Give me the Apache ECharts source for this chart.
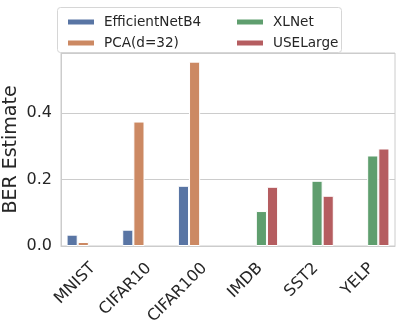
<!DOCTYPE html>
<html>
<head>
<meta charset="utf-8">
<script src="https://cdn.jsdelivr.net/npm/echarts@6/dist/echarts.min.js"></script>
<style>
  html, body { margin: 0; padding: 0; background: #fff; }
  #chart { width: 396px; height: 328px; }
</style>
</head>
<body>
<div id="chart"></div>
<script>
// datasets on the x axis
var categories = ['MNIST', 'CIFAR10', 'CIFAR100', 'IMDB', 'SST2', 'YELP'];

// BER estimates per model (null = not evaluated)
var efficientNet = [0.034, 0.049, 0.181, null, null, null];
var pca = [0.012, 0.374, 0.554, null, null, null];
var xlnet = [null, null, null, 0.105, 0.196, 0.272];
var useLarge = [null, null, null, 0.178, 0.151, 0.293];

var yTicks = [0.0, 0.2, 0.4];

var font = 'DejaVu Sans';
var textColor = '#262626';

function bar(name, data, color) {
    return {
        name: name,
        type: 'bar',
        data: data,
        barGap: '0%',
        barCategoryGap: '20%',
        itemStyle: { color: color, borderColor: '#fff', borderWidth: 1 }
    };
}

var legendText = { fontSize: 13.6, color: textColor, fontFamily: font, padding: [0, 0, 0, 4] };

var option = {
    animation: false,
    backgroundColor: '#fff',
    textStyle: { fontFamily: font },
    grid: {
        left: 61, right: 1, top: 53, bottom: 82,
        containLabel: false,
        outerBoundsMode: 'none',
        show: true, borderColor: '#cccccc', borderWidth: 1
    },
    legend: [
        {
            data: ['EfficientNetB4', 'PCA(d=32)'],
            orient: 'vertical',
            left: 61, top: 10,
            itemWidth: 28, itemHeight: 7, itemGap: 7,
            textStyle: legendText,
            icon: 'rect'
        },
        {
            data: ['XLNet', 'USELarge'],
            orient: 'vertical',
            left: 230, top: 10,
            itemWidth: 28, itemHeight: 7, itemGap: 7,
            textStyle: legendText,
            icon: 'rect'
        }
    ],
    graphic: [{
        type: 'rect',
        z: 1,
        shape: { x: 57.5, y: 7.5, width: 284, height: 45, r: 3 },
        style: { fill: 'rgba(255,255,255,0.8)', stroke: '#d6d6d6', lineWidth: 1 }
    }],
    xAxis: {
        type: 'category',
        data: categories,
        axisLine: { show: true, lineStyle: { color: '#cccccc' } },
        axisTick: { show: false },
        axisLabel: {
            rotate: 45, fontSize: 16, color: textColor, fontFamily: font,
            margin: 24, padding: [0, -6, 0, 0]
        },
        splitLine: { show: false }
    },
    yAxis: {
        type: 'value',
        min: 0, max: 0.58, interval: 0.2,
        name: 'BER Estimate',
        nameLocation: 'middle',
        nameGap: 40,
        nameMoveOverlap: false,
        nameTextStyle: { fontSize: 19, color: textColor, fontFamily: font },
        axisLine: { show: true, lineStyle: { color: '#cccccc' } },
        axisTick: { show: false },
        axisLabel: {
            fontSize: 16, color: textColor, fontFamily: font, margin: 9,
            showMaxLabel: false,
            formatter: function (v) {
                for (var i = 0; i < yTicks.length; i++) {
                    if (Math.abs(yTicks[i] - v) < 1e-6) return v.toFixed(1);
                }
                return '';
            }
        },
        splitLine: { lineStyle: { color: '#cccccc', width: 1 } }
    },
    series: [
        bar('EfficientNetB4', efficientNet, '#5975a4'),
        bar('PCA(d=32)', pca, '#cc8963'),
        bar('XLNet', xlnet, '#5f9e6e'),
        bar('USELarge', useLarge, '#b55d60')
    ]
};

var myChart = echarts.init(document.getElementById('chart'));
myChart.setOption(option);
</script>
</body>
</html>
